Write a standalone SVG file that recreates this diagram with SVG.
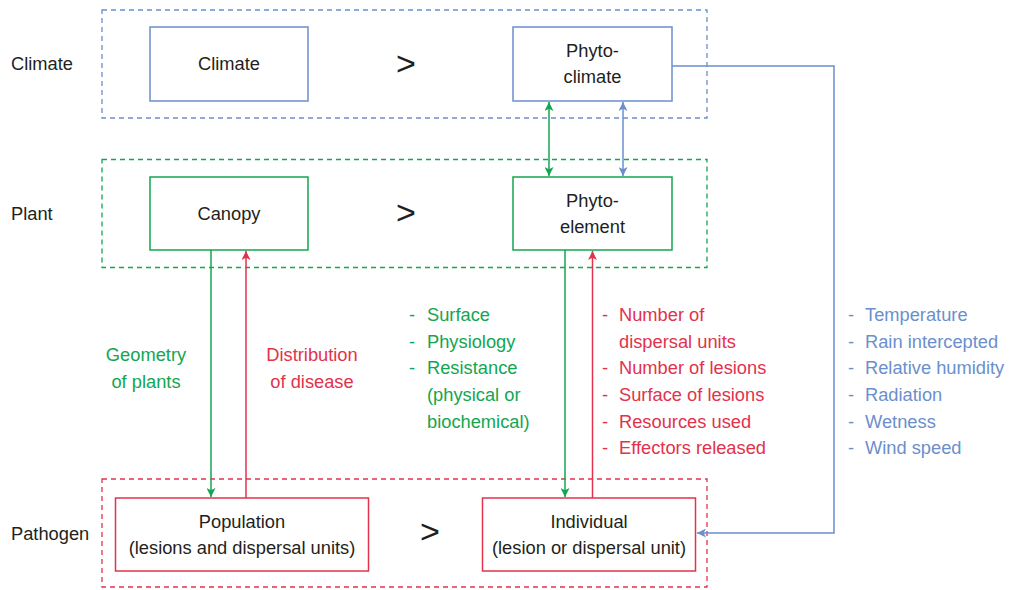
<svg xmlns="http://www.w3.org/2000/svg" width="1009" height="590" viewBox="0 0 1009 590">
<defs>
<style>
text{font-family:"Liberation Sans",Arial,sans-serif;font-size:18.3px;fill:#231f20}
.c{text-anchor:middle}
.g{fill:#13a650}.r{fill:#e2324c}.b{fill:#6b8fcd}
.zone{fill:none;stroke-width:1.3;stroke-dasharray:5 4}
.node{fill:#fff;stroke-width:1.5}
.sb{stroke:#6b8fcd}.sg{stroke:#13a650}.sr{stroke:#e2324c}
.ln{fill:none;stroke-width:1.5}
.gt{font-size:34px}
</style>
<marker id="ag" viewBox="0 0 10 10" refX="10" refY="5" markerWidth="9" markerHeight="9" markerUnits="userSpaceOnUse" orient="auto-start-reverse"><path d="M0,0 L10,5 L0,10 L2.5,5 z" fill="#13a650"/></marker>
<marker id="ar" viewBox="0 0 10 10" refX="10" refY="5" markerWidth="9" markerHeight="9" markerUnits="userSpaceOnUse" orient="auto-start-reverse"><path d="M0,0 L10,5 L0,10 L2.5,5 z" fill="#e2324c"/></marker>
<marker id="ab" viewBox="0 0 10 10" refX="10" refY="5" markerWidth="9" markerHeight="9" markerUnits="userSpaceOnUse" orient="auto-start-reverse"><path d="M0,0 L10,5 L0,10 L2.5,5 z" fill="#6b8fcd"/></marker>
</defs>
<rect width="1009" height="590" fill="#fff"/>
<g id="zones">
<rect class="zone sb" x="102" y="10" width="605" height="108"/>
<rect class="zone sg" x="102" y="159.5" width="605" height="108"/>
<rect class="zone sr" x="102" y="479" width="605" height="108"/>
</g>
<g id="row-labels">
<text x="11" y="70">Climate</text>
<text x="11" y="220">Plant</text>
<text x="11" y="540">Pathogen</text>
</g>
<g id="gt-symbols">
<text class="c gt" x="406" y="75">&gt;</text>
<text class="c gt" x="406" y="224">&gt;</text>
<text class="c gt" x="430" y="543">&gt;</text>
</g>
<g id="connectors">
<line class="ln sg" x1="549" y1="102" x2="549" y2="176" marker-start="url(#ag)" marker-end="url(#ag)"/>
<line class="ln sb" x1="623" y1="102" x2="623" y2="176" marker-start="url(#ab)" marker-end="url(#ab)"/>
<line class="ln sg" x1="211" y1="250" x2="211" y2="497" marker-end="url(#ag)"/>
<line class="ln sr" x1="246" y1="498" x2="246" y2="251" marker-end="url(#ar)"/>
<line class="ln sg" x1="565" y1="250" x2="565" y2="497" marker-end="url(#ag)"/>
<line class="ln sr" x1="592.5" y1="498" x2="592.5" y2="251" marker-end="url(#ar)"/>
<polyline class="ln sb" points="672,66 834,66 834,533 697,533" marker-end="url(#ab)"/>
</g>
<g id="node-climate">
<rect class="node sb" x="150" y="27" width="158" height="74"/>
<text class="c" x="229" y="70">Climate</text>
</g>
<g id="node-phytoclimate">
<rect class="node sb" x="513" y="27" width="159" height="74"/>
<text class="c" x="592.5" y="57">Phyto-</text>
<text class="c" x="592.5" y="83">climate</text>
</g>
<g id="node-canopy">
<rect class="node sg" x="150" y="177" width="158" height="73"/>
<text class="c" x="229" y="220">Canopy</text>
</g>
<g id="node-phytoelement">
<rect class="node sg" x="513" y="177" width="159" height="73"/>
<text class="c" x="592.5" y="207">Phyto-</text>
<text class="c" x="592.5" y="233">element</text>
</g>
<g id="node-population">
<rect class="node sr" x="115.5" y="498" width="253" height="73"/>
<text class="c" x="242" y="528">Population</text>
<text class="c" x="242" y="554">(lesions and dispersal units)</text>
</g>
<g id="node-individual">
<rect class="node sr" x="482.5" y="498" width="213" height="73"/>
<text class="c" x="589" y="528">Individual</text>
<text class="c" x="589" y="554">(lesion or dispersal unit)</text>
</g>
<g id="label-geometry">
<text class="c g" x="146" y="361">Geometry</text>
<text class="c g" x="146" y="388">of plants</text>
</g>
<g id="label-distribution">
<text class="c r" x="312" y="361">Distribution</text>
<text class="c r" x="312" y="388">of disease</text>
</g>
<g id="list-phytoelement">
<text class="g" x="409" y="321">-</text><text class="g" x="427" y="321">Surface</text>
<text class="g" x="409" y="348">-</text><text class="g" x="427" y="348">Physiology</text>
<text class="g" x="409" y="374">-</text><text class="g" x="427" y="374">Resistance</text>
<text class="g" x="427" y="401">(physical or</text>
<text class="g" x="427" y="428">biochemical)</text>
</g>
<g id="list-individual">
<text class="r" x="602" y="321">-</text><text class="r" x="619" y="321">Number of</text>
<text class="r" x="619" y="348">dispersal units</text>
<text class="r" x="602" y="374">-</text><text class="r" x="619" y="374">Number of lesions</text>
<text class="r" x="602" y="401">-</text><text class="r" x="619" y="401">Surface of lesions</text>
<text class="r" x="602" y="428">-</text><text class="r" x="619" y="428">Resources used</text>
<text class="r" x="602" y="454">-</text><text class="r" x="619" y="454">Effectors released</text>
</g>
<g id="list-phytoclimate">
<text class="b" x="848" y="321">-</text><text class="b" x="865" y="321">Temperature</text>
<text class="b" x="848" y="348">-</text><text class="b" x="865" y="348">Rain intercepted</text>
<text class="b" x="848" y="374">-</text><text class="b" x="865" y="374">Relative humidity</text>
<text class="b" x="848" y="401">-</text><text class="b" x="865" y="401">Radiation</text>
<text class="b" x="848" y="428">-</text><text class="b" x="865" y="428">Wetness</text>
<text class="b" x="848" y="454">-</text><text class="b" x="865" y="454">Wind speed</text>
</g>
</svg>
